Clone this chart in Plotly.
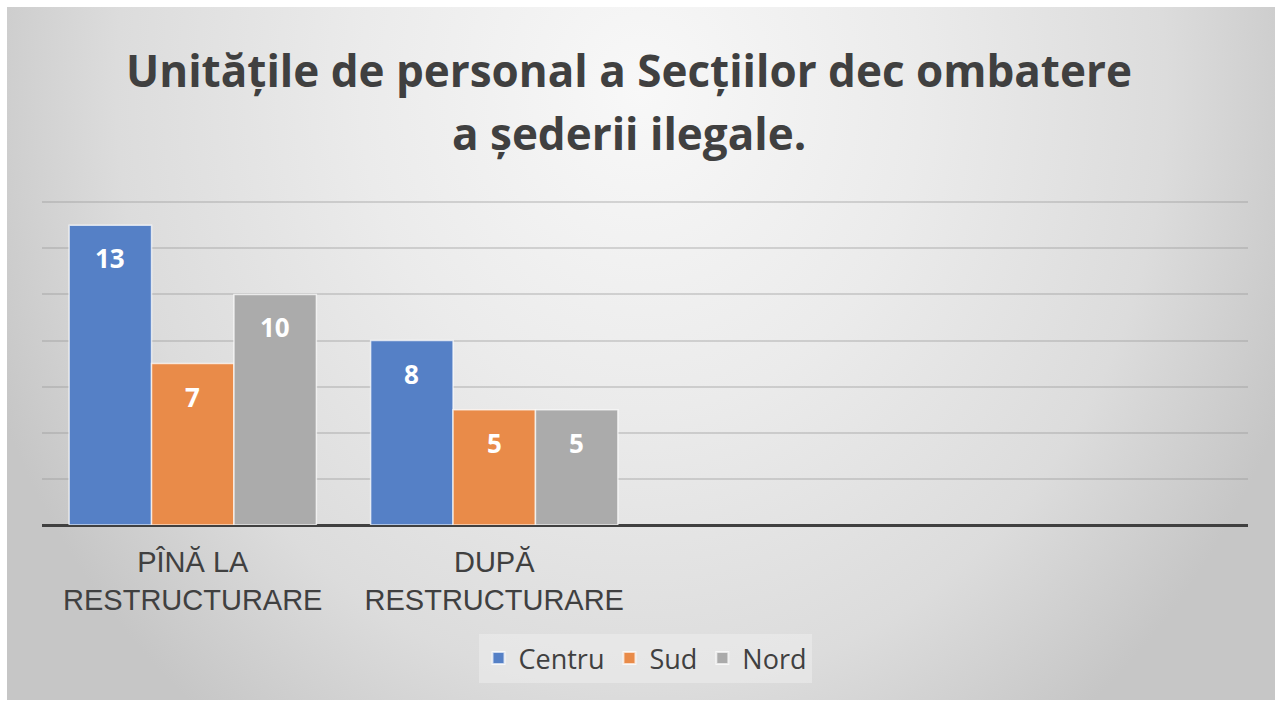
import base64
import plotly.graph_objects as go

categories = ["PÎNĂ LA<br>RESTRUCTURARE", "DUPĂ<br>RESTRUCTURARE", " ", "  "]
series_names = ["Centru", "Sud", "Nord"]
centru = [13, 8, None, None]
sud = [7, 5, None, None]
nord = [10, 5, None, None]
series_values = [centru, sud, nord]
colors = ["#5580C6", "#E98B49", "#ABABAB"]
title_lines = ["Unitățile de personal a Secțiilor dec ombatere", "a șederii ilegale."]
y_ticks = [0, 2, 4, 6, 8, 10, 12, 14]

W, H = 1281, 704
ML, MR, MT, MB = 42, 33, 201, 179
PW = W - ML - MR
PH = H - MT - MB
BARGAP = 0.18
YMAX = 14.05

fig = go.Figure()
for name, vals, col in zip(series_names, series_values, colors):
    fig.add_trace(go.Bar(
        x=categories, y=vals, name=name,
        marker=dict(color=col, line=dict(color="rgba(255,255,255,0.7)", width=1.5)),
        hoverinfo="skip",
    ))

# data labels, inside end of each bar
n_cat = len(categories)
cat_px = PW / n_cat
bar_px = cat_px * (1 - BARGAP) / len(series_names)
annotations = []
for j, vals in enumerate(series_values):
    for i, v in enumerate(vals):
        if v is None:
            continue
        annotations.append(dict(
            x=i, y=v, xref="x", yref="y", text=f"<b>{v}</b>", showarrow=False,
            xshift=(j - (len(series_names) - 1) / 2) * bar_px, yshift=-33,
            yanchor="middle",
            font=dict(family="Open Sans", size=26, color="white"),
        ))

def py_to_paper(py):
    return (H - MB - py) / PH

def px_to_paper(px):
    return (px - ML) / PW

for k, (line, cy) in enumerate(zip(title_lines, [70, 133])):
    annotations.append(dict(
        x=px_to_paper(629), y=py_to_paper(cy), xref="paper", yref="paper",
        text=f"<b>{line}</b>", showarrow=False, xanchor="center", yanchor="middle",
        font=dict(family="Open Sans", size=44, color="#404040"),
    ))

svg = '''<svg xmlns="http://www.w3.org/2000/svg" width="1268" height="693" viewBox="0 0 1268 693" preserveAspectRatio="none">
<defs><radialGradient id="g" cx="0" cy="0" r="1" gradientUnits="userSpaceOnUse" gradientTransform="translate(634 83) scale(700 800)">
<stop offset="0" stop-color="#f8f8f8"/><stop offset="0.4" stop-color="#ebebeb"/><stop offset="0.75" stop-color="#dcdcdc"/><stop offset="1" stop-color="#c6c6c6"/>
</radialGradient></defs><rect width="1268" height="693" fill="url(#g)"/></svg>'''
src = "data:image/svg+xml;base64," + base64.b64encode(svg.encode()).decode()

fig.update_layout(
    width=W, height=H,
    margin=dict(l=ML, r=MR, t=MT, b=MB, pad=0),
    paper_bgcolor="white",
    plot_bgcolor="rgba(0,0,0,0)",
    barmode="group", bargap=BARGAP, bargroupgap=0,
    showlegend=True,
    legend=dict(orientation="h", x=px_to_paper(645), xanchor="center", y=py_to_paper(634), yanchor="top",
                bgcolor="rgba(240,240,240,0.5)", font=dict(family="Open Sans", size=27, color="#404040"),
                itemsizing="constant", traceorder="normal", itemwidth=30),
    images=[dict(source=src, xref="paper", yref="paper", x=px_to_paper(7), y=py_to_paper(7),
                 sizex=px_to_paper(1275) - px_to_paper(7), sizey=py_to_paper(7) - py_to_paper(700),
                 xanchor="left", yanchor="top", sizing="stretch", layer="below")],
    annotations=annotations,
    xaxis=dict(type="category", categoryorder="array", categoryarray=categories,
               range=[-0.5, n_cat - 0.5], showgrid=False, zeroline=False, showline=False,
               ticks="", ticklabelstandoff=17,
               tickfont=dict(family="Liberation Sans", size=29, color="#404040")),
    yaxis=dict(range=[0, YMAX], tickvals=y_ticks, showticklabels=False, showgrid=True,
               gridcolor="rgba(150,150,150,0.35)", gridwidth=1.5, zeroline=True,
               zerolinecolor="#404040", zerolinewidth=3, showline=False),
)

fig.write_html("out.html", config={"displayModeBar": False},
               post_script="document.body.style.margin='0';")
